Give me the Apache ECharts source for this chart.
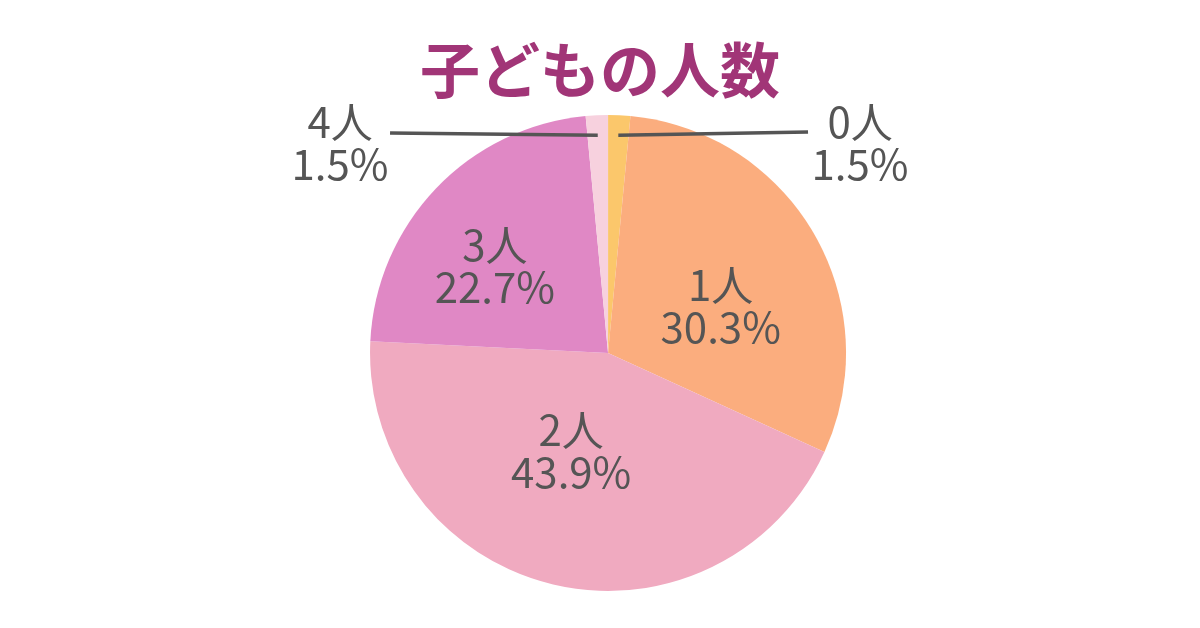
<!DOCTYPE html>
<html>
<head>
<meta charset="utf-8">
<script src="https://cdn.jsdelivr.net/npm/echarts@6/dist/echarts.min.js"></script>
<style>
  html, body { margin: 0; padding: 0; background: #fff; }
  #chart { width: 1200px; height: 628px; }
</style>
</head>
<body>
<div id="chart"></div>
<script>
// Chart data
const titleText = '子どもの人数';
const categories = ['0人', '1人', '2人', '3人', '4人'];
const shares = [1.5, 30.3, 43.9, 22.7, 1.5];
const sliceColors = ['#fbc76b', '#fbad7e', '#f0aac0', '#e088c5', '#f7d1de'];

// label placement tweaks (px, relative to the default inner spot / pie centre)
const innerOffsets = { '1人': [7, 14], '2人': [-8, -20], '3人': [-25, -3] };
const outsideLayout = {
    '0人': { label: [252, -210], lineEnd: [200, -221] },
    '4人': { label: [-268, -210], lineEnd: [-218, -220] }
};

const pieCenter = ['50.67%', '56.2%'];
const pieRadius = 238;

const chart = echarts.init(document.getElementById('chart'));

const labelText = {
    formatter: p => p.name + '\n' + p.value.toFixed(1) + '%',
    fontFamily: 'Noto Sans CJK JP',
    fontSize: 42,
    lineHeight: 42,
    color: '#555555'
};

// bottom series: the slices and the labels sitting inside them
const sliceData = categories.map((name, i) => ({
    name: name,
    value: shares[i],
    itemStyle: { color: sliceColors[i] },
    label: innerOffsets[name] ? { offset: innerOffsets[name] } : { show: false }
}));

// top series: invisible copy that only carries the two callout labels,
// so the leader lines are drawn over the slices
const calloutData = categories.map((name, i) => ({
    name: name,
    value: shares[i],
    label: { show: !!outsideLayout[name] },
    labelLine: { show: !!outsideLayout[name] }
}));

function centerPx() {
    return [
        chart.getWidth() * parseFloat(pieCenter[0]) / 100,
        chart.getHeight() * parseFloat(pieCenter[1]) / 100
    ];
}

const option = {
    backgroundColor: '#ffffff',
    title: {
        text: titleText,
        left: 'center',
        top: 35,
        textStyle: {
            fontFamily: 'Noto Sans CJK JP',
            fontSize: 60,
            fontWeight: 'bold',
            color: '#a13577'
        }
    },
    series: [{
        type: 'pie',
        z: 2,
        center: pieCenter,
        radius: pieRadius,
        startAngle: 90,
        clockwise: true,
        animation: false,
        data: sliceData,
        label: Object.assign({ show: true, position: 'inner' }, labelText),
        labelLine: { show: false },
        emphasis: { disabled: true }
    }, {
        type: 'pie',
        z: 5,
        silent: true,
        center: pieCenter,
        radius: pieRadius,
        startAngle: 90,
        clockwise: true,
        animation: false,
        data: calloutData,
        itemStyle: { color: 'rgba(0,0,0,0)' },
        label: Object.assign({ position: 'outside' }, labelText),
        labelLine: {
            length: 10,
            length2: 20,
            lineStyle: { color: '#555555', width: 3.5 }
        },
        labelLayout: function (params) {
            const conf = outsideLayout[categories[params.dataIndex]];
            if (!conf || !params.labelLinePoints) return {};
            const c = centerPx();
            const edge = params.labelLinePoints[0];
            // start the leader a little inside the slice
            const k = 20 / pieRadius;
            const start = [edge[0] + (c[0] - edge[0]) * k, edge[1] + (c[1] - edge[1]) * k];
            return {
                x: c[0] + conf.label[0],
                y: c[1] + conf.label[1],
                align: 'center',
                verticalAlign: 'middle',
                labelLinePoints: [start, [c[0] + conf.lineEnd[0], c[1] + conf.lineEnd[1]]]
            };
        },
        emphasis: { disabled: true }
    }]
};

chart.setOption(option);
</script>
</body>
</html>
